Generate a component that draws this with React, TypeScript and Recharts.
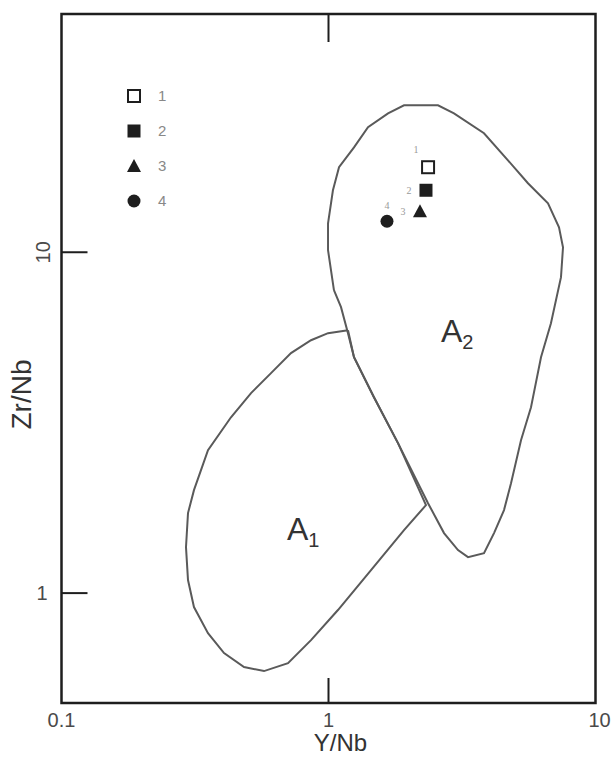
import React from 'react';
import {
  ScatterChart,
  Scatter,
  XAxis,
  YAxis,
  ReferenceArea,
  ReferenceDot,
  Legend,
  LabelList,
} from 'recharts';

// field outlines (Y/Nb, Zr/Nb)
const a2Outline = [
  { x: 1.048, y: 7.74 }, { x: 0.996, y: 10.14 }, { x: 0.996, y: 12.16 }, { x: 1.039, y: 15.2 },
  { x: 1.095, y: 17.76 }, { x: 1.246, y: 20.3 }, { x: 1.406, y: 23.26 }, { x: 1.671, y: 25.56 },
  { x: 1.918, y: 26.98 }, { x: 2.571, y: 26.98 }, { x: 2.951, y: 25.56 }, { x: 3.823, y: 22.34 },
  { x: 4.701, y: 18.61 }, { x: 5.586, y: 15.94 }, { x: 6.639, y: 13.92 }, { x: 7.3, y: 11.84 },
  { x: 7.556, y: 10.34 }, { x: 7.426, y: 8.45 }, { x: 6.81, y: 6.19 }, { x: 6.25, y: 4.92 },
  { x: 5.734, y: 3.51 }, { x: 5.26, y: 2.81 }, { x: 4.826, y: 2.1 }, { x: 4.543, y: 1.752 },
  { x: 4.168, y: 1.5 }, { x: 3.823, y: 1.31 }, { x: 3.331, y: 1.275 }, { x: 3.055, y: 1.337 },
  { x: 2.708, y: 1.5 }, { x: 2.359, y: 1.836 }, { x: 1.821, y: 2.754 }, { x: 1.48, y: 3.757 },
  { x: 1.246, y: 4.92 }, { x: 1.183, y: 5.79 }, { x: 1.114, y: 6.9 }, { x: 1.048, y: 7.74 },
];

const a1Outline = [
  { x: 1.183, y: 5.905 }, { x: 0.996, y: 5.79 }, { x: 0.86, y: 5.52 }, { x: 0.7236, y: 5.06 },
  { x: 0.6091, y: 4.42 }, { x: 0.5127, y: 3.86 }, { x: 0.4313, y: 3.28 }, { x: 0.3537, y: 2.627 },
  { x: 0.333, y: 2.295 }, { x: 0.3134, y: 2.005 }, { x: 0.2977, y: 1.717 }, { x: 0.2926, y: 1.364 },
  { x: 0.2977, y: 1.092 }, { x: 0.3134, y: 0.91 }, { x: 0.3537, y: 0.763 }, { x: 0.4062, y: 0.667 },
  { x: 0.4827, y: 0.6067 }, { x: 0.5735, y: 0.5905 }, { x: 0.7053, y: 0.6233 }, { x: 0.86, y: 0.728 },
  { x: 1.085, y: 0.892 }, { x: 1.443, y: 1.168 }, { x: 1.918, y: 1.53 }, { x: 2.318, y: 1.812 },
  { x: 1.821, y: 2.754 }, { x: 1.48, y: 3.757 }, { x: 1.246, y: 4.92 }, { x: 1.183, y: 5.905 },
];

// samples
const sample1 = [{ x: 2.36, y: 17.76, label: '1' }];
const sample2 = [{ x: 2.318, y: 15.2, label: '2' }];
const sample3 = [{ x: 2.201, y: 13.19, label: '3' }];
const sample4 = [{ x: 1.656, y: 12.33, label: '4' }];

const legendLabels = ['1', '2', '3', '4'];
const xTicks = [0.1, 1, 10];
const yTicks = [1, 10];
const xDomain = [0.1, 10];
const yDomain = [0.476, 50];

const W = 614;
const H = 760;
const PLOT_LEFT = 61.5;
const PLOT_TOP = 14;
const PLOT_BOTTOM = 703;
const FONT = '"Liberation Sans", Arial, sans-serif';
const INK = '#1e1e1e';
const LINE = '#5a5a5a';
const TEXT = '#4a4a4a';

const noDot = () => <g />;

const OpenSquare = (p: any) => (
  <rect x={p.cx - 6} y={p.cy - 6} width={12} height={12} fill="#fff" stroke={INK} strokeWidth={2} />
);
const FilledSquare = (p: any) => (
  <rect x={p.cx - 6.5} y={p.cy - 6.5} width={13} height={13} fill={INK} />
);
const Triangle = (p: any) => (
  <path d={`M${p.cx},${p.cy - 7} L${p.cx + 7},${p.cy + 6} L${p.cx - 7},${p.cy + 6} Z`} fill={INK} />
);
const Dot = (p: any) => <circle cx={p.cx} cy={p.cy} r={6.5} fill={INK} />;

const legendIcons = [
  <rect key="1" x={2} y={2} width={12} height={12} fill="#fff" stroke={INK} strokeWidth={2} />,
  <rect key="2" x={1.5} y={1.5} width={13} height={13} fill={INK} />,
  <path key="3" d="M8,1 L15,14 L1,14 Z" fill={INK} />,
  <circle key="4" cx={8} cy={8} r={6.5} fill={INK} />,
];

const renderLegend = () => (
  <div style={{ fontFamily: FONT }}>
    {legendLabels.map((lab, i) => (
      <div key={lab} style={{ display: 'flex', alignItems: 'center', height: 35 }}>
        <svg width={16} height={16}>{legendIcons[i]}</svg>
        <span style={{ marginLeft: 16, fontSize: 15, color: '#888' }}>{lab}</span>
      </div>
    ))}
  </div>
);

const XTick = (props: any) => {
  const { x, payload } = props;
  const v = payload.value;
  return (
    <g>
      {v === 1 && (
        <>
          <line x1={x} x2={x} y1={PLOT_BOTTOM} y2={PLOT_BOTTOM - 25} stroke={INK} strokeWidth={2} />
          <line x1={x} x2={x} y1={PLOT_TOP} y2={PLOT_TOP + 28} stroke={INK} strokeWidth={2} />
        </>
      )}
      <text x={v === 10 ? x + 4 : x} y={PLOT_BOTTOM + 24} textAnchor="middle" fontSize={20}
        fontFamily={FONT} fill={TEXT}>
        {v}
      </text>
    </g>
  );
};

const YTick = (props: any) => {
  const { y, payload } = props;
  const v = payload.value;
  return (
    <g>
      <line x1={PLOT_LEFT} x2={PLOT_LEFT + 26} y1={y} y2={y} stroke={INK} strokeWidth={2} />
      {v === 10 ? (
        <text x={43} y={y} transform={`rotate(-90, 43, ${y})`} textAnchor="middle"
          dominantBaseline="central" fontSize={20} fontFamily={FONT} fill={TEXT}>
          {v}
        </text>
      ) : (
        <text x={42} y={y} textAnchor="middle" dominantBaseline="central" fontSize={20}
          fontFamily={FONT} fill={TEXT}>
          {v}
        </text>
      )}
    </g>
  );
};

const fieldLabel = (main: string, sub: string) => (props: any) => {
  const { viewBox } = props;
  const cx = viewBox.x + viewBox.width / 2;
  const cy = viewBox.y + viewBox.height / 2;
  return (
    <text x={cx - 22} y={cy + 12} fontSize={32} fontFamily={FONT} fill="#333">
      {main}
      <tspan fontSize={20} dy={7}>{sub}</tspan>
    </text>
  );
};

export default function App() {
  return (
    <div style={{ position: 'absolute', left: 0, top: 0, width: W, height: H, background: '#fff' }}>
      <ScatterChart width={W} height={H} margin={{ top: PLOT_TOP, right: 18.5, bottom: 0, left: 0 }}>
        <XAxis
          type="number"
          dataKey="x"
          scale="log"
          domain={xDomain}
          ticks={xTicks}
          allowDataOverflow
          axisLine={false}
          tickLine={false}
          tick={<XTick />}
          height={57}
          interval={0}
          label={{
            content: (p: any) => (
              <text x={p.viewBox.x + p.viewBox.width / 2 + 12} y={751} textAnchor="middle"
                fontSize={24} fontFamily={FONT} fill="#333">
                Y/Nb
              </text>
            ),
          }}
        />
        <YAxis
          type="number"
          dataKey="y"
          scale="log"
          domain={yDomain}
          ticks={yTicks}
          allowDataOverflow
          axisLine={false}
          tickLine={false}
          tick={<YTick />}
          width={PLOT_LEFT}
          interval={0}
          label={{
            content: (p: any) => {
              const cy = p.viewBox.y + p.viewBox.height / 2 + 36;
              return (
                <text x={21} y={cy} transform={`rotate(-90, 21, ${cy})`} textAnchor="middle"
                  dominantBaseline="central" fontSize={28} fontFamily={FONT} fill="#333">
                  Zr/Nb
                </text>
              );
            },
          }}
        />
        <ReferenceArea x1={0.1} x2={10} y1={0.476} y2={50} fill="none" stroke={INK}
          strokeWidth={2.5} ifOverflow="visible" />
        <Scatter data={a2Outline} line={{ stroke: LINE, strokeWidth: 2 }} lineJointType="linear"
          shape={noDot} isAnimationActive={false} legendType="none" />
        <Scatter data={a1Outline} line={{ stroke: LINE, strokeWidth: 2 }} lineJointType="linear"
          shape={noDot} isAnimationActive={false} legendType="none" />
        <Scatter data={sample1} shape={OpenSquare} isAnimationActive={false}>
          <LabelList dataKey="label" position="top" offset={10} fontSize={10} fill="#999" dx={-12} />
        </Scatter>
        <Scatter data={sample2} shape={FilledSquare} isAnimationActive={false}>
          <LabelList dataKey="label" position="left" offset={10} fontSize={10} fill="#999" />
        </Scatter>
        <Scatter data={sample3} shape={Triangle} isAnimationActive={false}>
          <LabelList dataKey="label" position="left" offset={10} fontSize={10} fill="#999" />
        </Scatter>
        <Scatter data={sample4} shape={Dot} isAnimationActive={false}>
          <LabelList dataKey="label" position="top" offset={8} fontSize={10} fill="#999" />
        </Scatter>
        <ReferenceDot x={3.19} y={5.9} r={0} fill="none" stroke="none" label={{ content: fieldLabel('A', '2') }} />
        <ReferenceDot x={0.845} y={1.55} r={0} fill="none" stroke="none" label={{ content: fieldLabel('A', '1') }} />
        <Legend
          layout="horizontal"
          verticalAlign="middle"
          align="center"
          content={renderLegend}
          wrapperStyle={{ left: 126, top: 78, width: 60 }}
        />
      </ScatterChart>
    </div>
  );
}
